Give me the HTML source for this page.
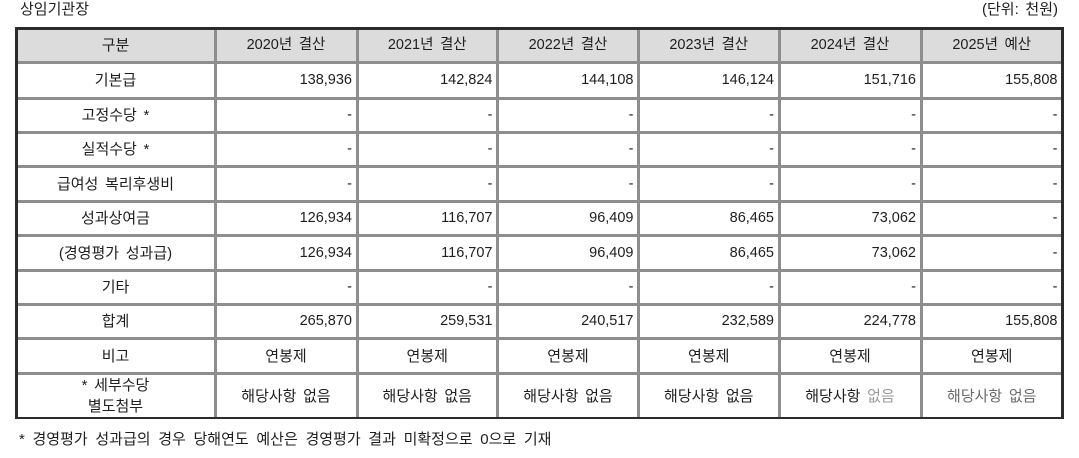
<!DOCTYPE html>
<html><head><meta charset="utf-8">
<style>
html,body{margin:0;padding:0;background:#fff;}
body{width:1079px;height:458px;position:relative;overflow:hidden;
font-family:"Liberation Sans","Noto Sans CJK KR","NanumGothic",sans-serif;font-size:15px;color:#1e1e1e;word-spacing:2.5px;}
.a{position:absolute;}
.hbg{left:16px;top:28px;width:1046px;height:34px;background:#dcdcdc;}
.hl{position:absolute;left:16px;width:1046px;height:3px;background:#8e8e8e;}
.vl{position:absolute;top:28px;height:390px;width:3px;background:#8e8e8e;}
.ob{position:absolute;background:#2b2b2b;}
.c{position:absolute;display:flex;align-items:center;box-sizing:border-box;white-space:nowrap;line-height:1;}
.ctr{justify-content:center;}
.rt{justify-content:flex-end;padding-right:5px;font-size:14.5px;}
.hd{font-size:14.5px;}
.c0{left:16px;width:199px;}
.c1{left:215px;width:142px;}
.c2{left:357px;width:140.5px;}
.c3{left:497.5px;width:141px;}
.c4{left:638.5px;width:140.5px;}
.c5{left:779px;width:142px;}
.c6{left:921px;width:141.5px;}
.r0{top:28px;height:34px;}
.r1{top:62px;height:36.5px;}
.r2{top:98.5px;height:34px;}
.r3{top:132.5px;height:34px;}
.r4{top:166.5px;height:35px;}
.r5{top:201.5px;height:34px;}
.r6{top:235.5px;height:35px;}
.r7{top:270.5px;height:34px;}
.r8{top:304.5px;height:34px;}
.r9{top:338.5px;height:35px;}
.r10{top:373.5px;height:45px;}
.two{flex-direction:column;line-height:21px;}
</style></head><body>
<div class="a" style="left:20px;top:1px;line-height:18px;">상임기관장</div>
<div class="a" style="right:21px;top:1px;line-height:18px;">(단위: 천원)</div>

<div class="a hbg"></div>

<div class="hl" style="top:60.5px"></div>
<div class="hl" style="top:97px"></div>
<div class="hl" style="top:131px"></div>
<div class="hl" style="top:165px"></div>
<div class="hl" style="top:200px"></div>
<div class="hl" style="top:234px"></div>
<div class="hl" style="top:269px"></div>
<div class="hl" style="top:303px"></div>
<div class="hl" style="top:337px"></div>
<div class="hl" style="top:372px"></div>

<div class="vl" style="left:213.5px"></div>
<div class="vl" style="left:355.5px"></div>
<div class="vl" style="left:496px"></div>
<div class="vl" style="left:637px"></div>
<div class="vl" style="left:777.5px"></div>
<div class="vl" style="left:919.5px"></div>

<div class="ob" style="left:15px;top:27px;width:1049px;height:2.5px"></div>
<div class="ob" style="left:15px;top:416.5px;width:1049px;height:2.5px"></div>
<div class="ob" style="left:15px;top:27px;width:2.5px;height:392px"></div>
<div class="ob" style="left:1061px;top:27px;width:3px;height:392px"></div>

<!-- header -->
<div class="c ctr c0 r0">구분</div>
<div class="c ctr hd c1 r0">2020년 결산</div>
<div class="c ctr hd c2 r0">2021년 결산</div>
<div class="c ctr hd c3 r0">2022년 결산</div>
<div class="c ctr hd c4 r0">2023년 결산</div>
<div class="c ctr hd c5 r0">2024년 결산</div>
<div class="c ctr hd c6 r0">2025년 예산</div>

<!-- row1 -->
<div class="c ctr c0 r1">기본급</div>
<div class="c rt c1 r1">138,936</div>
<div class="c rt c2 r1">142,824</div>
<div class="c rt c3 r1">144,108</div>
<div class="c rt c4 r1">146,124</div>
<div class="c rt c5 r1">151,716</div>
<div class="c rt c6 r1">155,808</div>

<!-- row2 -->
<div class="c ctr c0 r2">고정수당 *</div>
<div class="c rt c1 r2">-</div>
<div class="c rt c2 r2">-</div>
<div class="c rt c3 r2">-</div>
<div class="c rt c4 r2">-</div>
<div class="c rt c5 r2">-</div>
<div class="c rt c6 r2">-</div>

<!-- row3 -->
<div class="c ctr c0 r3">실적수당 *</div>
<div class="c rt c1 r3">-</div>
<div class="c rt c2 r3">-</div>
<div class="c rt c3 r3">-</div>
<div class="c rt c4 r3">-</div>
<div class="c rt c5 r3">-</div>
<div class="c rt c6 r3">-</div>

<!-- row4 -->
<div class="c ctr c0 r4">급여성 복리후생비</div>
<div class="c rt c1 r4">-</div>
<div class="c rt c2 r4">-</div>
<div class="c rt c3 r4">-</div>
<div class="c rt c4 r4">-</div>
<div class="c rt c5 r4">-</div>
<div class="c rt c6 r4">-</div>

<!-- row5 -->
<div class="c ctr c0 r5">성과상여금</div>
<div class="c rt c1 r5">126,934</div>
<div class="c rt c2 r5">116,707</div>
<div class="c rt c3 r5">96,409</div>
<div class="c rt c4 r5">86,465</div>
<div class="c rt c5 r5">73,062</div>
<div class="c rt c6 r5">-</div>

<!-- row6 -->
<div class="c ctr c0 r6">(경영평가 성과급)</div>
<div class="c rt c1 r6">126,934</div>
<div class="c rt c2 r6">116,707</div>
<div class="c rt c3 r6">96,409</div>
<div class="c rt c4 r6">86,465</div>
<div class="c rt c5 r6">73,062</div>
<div class="c rt c6 r6">-</div>

<!-- row7 -->
<div class="c ctr c0 r7">기타</div>
<div class="c rt c1 r7">-</div>
<div class="c rt c2 r7">-</div>
<div class="c rt c3 r7">-</div>
<div class="c rt c4 r7">-</div>
<div class="c rt c5 r7">-</div>
<div class="c rt c6 r7">-</div>

<!-- row8 -->
<div class="c ctr c0 r8">합계</div>
<div class="c rt c1 r8">265,870</div>
<div class="c rt c2 r8">259,531</div>
<div class="c rt c3 r8">240,517</div>
<div class="c rt c4 r8">232,589</div>
<div class="c rt c5 r8">224,778</div>
<div class="c rt c6 r8">155,808</div>

<!-- row9 -->
<div class="c ctr c0 r9">비고</div>
<div class="c ctr c1 r9">연봉제</div>
<div class="c ctr c2 r9">연봉제</div>
<div class="c ctr c3 r9">연봉제</div>
<div class="c ctr c4 r9">연봉제</div>
<div class="c ctr c5 r9">연봉제</div>
<div class="c ctr c6 r9">연봉제</div>

<!-- row10 -->
<div class="c ctr two c0 r10"><span>* 세부수당</span><span>별도첨부</span></div>
<div class="c ctr c1 r10">해당사항 없음</div>
<div class="c ctr c2 r10">해당사항 없음</div>
<div class="c ctr c3 r10">해당사항 없음</div>
<div class="c ctr c4 r10">해당사항 없음</div>
<div class="c ctr c5 r10"><span>해당사항 <span style="color:#9a9a9a">없음</span></span></div>
<div class="c ctr c6 r10" style="color:#6a6a6a">해당사항 없음</div>

<div class="a" style="left:19px;top:430px;line-height:20px;word-spacing:3.5px;">* 경영평가 성과급의 경우 당해연도 예산은 경영평가 결과 미확정으로 0으로 기재</div>
</body></html>
